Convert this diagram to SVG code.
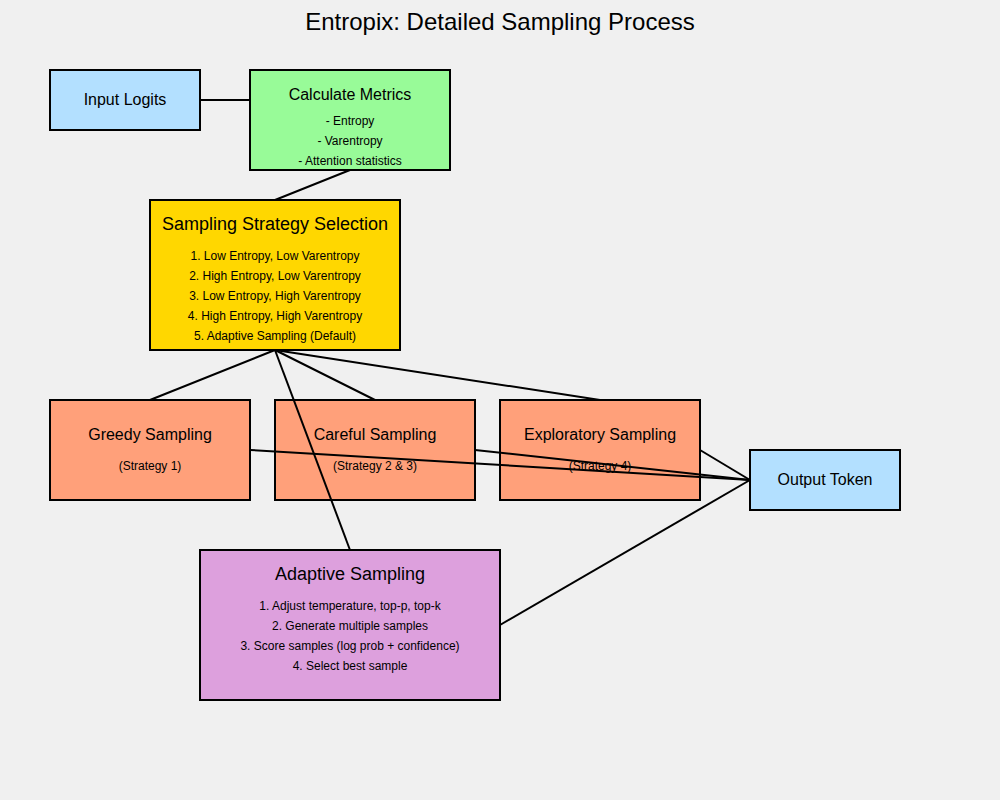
<svg xmlns="http://www.w3.org/2000/svg" width="1000" height="800" viewBox="0 0 1000 800">
<style>
.box{stroke:#000;stroke-width:2}
text{font-family:"Liberation Sans",Arial,sans-serif;text-anchor:middle;fill:#000}
.title{font-size:24px}
.t{font-size:16px}
.h{font-size:18px}
.s{font-size:12px}
.c line{stroke:#000;stroke-width:2}
</style>
<rect width="1000" height="800" fill="#f0f0f0"/>
<text class="title" x="500" y="30">Entropix: Detailed Sampling Process</text>
<g id="input-logits"><rect class="box" x="50" y="70" width="150" height="60" fill="#b3e0ff"/><text class="t" x="125" y="105">Input Logits</text></g>
<g id="calculate-metrics"><rect class="box" x="250" y="70" width="200" height="100" fill="#98fb98"/><text class="t" x="350" y="100">Calculate Metrics</text><text class="s" x="350" y="125">- Entropy</text><text class="s" x="350" y="145">- Varentropy</text><text class="s" x="350" y="165">- Attention statistics</text></g>
<g id="strategy-selection"><rect class="box" x="150" y="200" width="250" height="150" fill="#ffd700"/><text class="h" x="275" y="230">Sampling Strategy Selection</text><text class="s" x="275" y="260">1. Low Entropy, Low Varentropy</text><text class="s" x="275" y="280">2. High Entropy, Low Varentropy</text><text class="s" x="275" y="300">3. Low Entropy, High Varentropy</text><text class="s" x="275" y="320">4. High Entropy, High Varentropy</text><text class="s" x="275" y="340">5. Adaptive Sampling (Default)</text></g>
<g id="greedy"><rect class="box" x="50" y="400" width="200" height="100" fill="#ffa07a"/><text class="t" x="150" y="440">Greedy Sampling</text><text class="s" x="150" y="470">(Strategy 1)</text></g>
<g id="careful"><rect class="box" x="275" y="400" width="200" height="100" fill="#ffa07a"/><text class="t" x="375" y="440">Careful Sampling</text><text class="s" x="375" y="470">(Strategy 2 &amp; 3)</text></g>
<g id="exploratory"><rect class="box" x="500" y="400" width="200" height="100" fill="#ffa07a"/><text class="t" x="600" y="440">Exploratory Sampling</text><text class="s" x="600" y="470">(Strategy 4)</text></g>
<g id="output-token"><rect class="box" x="750" y="450" width="150" height="60" fill="#b3e0ff"/><text class="t" x="825" y="485">Output Token</text></g>
<g id="adaptive"><rect class="box" x="200" y="550" width="300" height="150" fill="#dda0dd"/><text class="h" x="350" y="580">Adaptive Sampling</text><text class="s" x="350" y="610">1. Adjust temperature, top-p, top-k</text><text class="s" x="350" y="630">2. Generate multiple samples</text><text class="s" x="350" y="650">3. Score samples (log prob + confidence)</text><text class="s" x="350" y="670">4. Select best sample</text></g>
<g id="connectors" class="c">
<line x1="200" y1="100" x2="250" y2="100"/>
<line x1="350" y1="170" x2="275" y2="200"/>
<line x1="275" y1="350" x2="150" y2="400"/>
<line x1="275" y1="350" x2="375" y2="400"/>
<line x1="275" y1="350" x2="600" y2="400"/>
<line x1="275" y1="350" x2="350" y2="550"/>
<line x1="250" y1="450" x2="750" y2="480"/>
<line x1="475" y1="450" x2="750" y2="480"/>
<line x1="700" y1="450" x2="750" y2="480"/>
<line x1="500" y1="625" x2="750" y2="480"/>
</g>
</svg>
